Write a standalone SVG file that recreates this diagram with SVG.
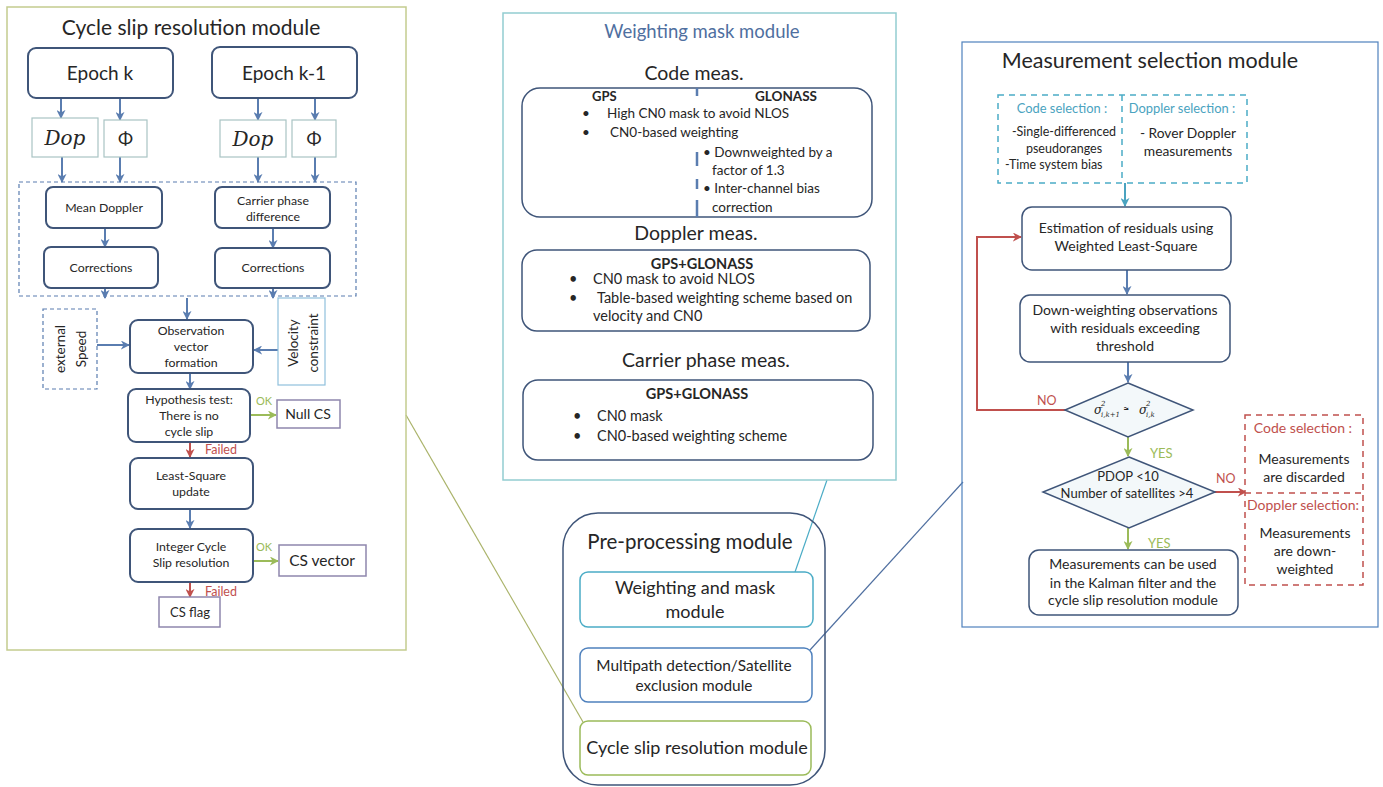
<svg xmlns="http://www.w3.org/2000/svg" width="1383" height="787" viewBox="0 0 1383 787">
<defs>
<marker id="ab" viewBox="0 0 10 10" refX="9" refY="5" markerWidth="9" markerHeight="9" markerUnits="userSpaceOnUse" orient="auto"><path d="M0,0 L10,5 L0,10 L3,5 z" fill="#5a7db0"/></marker>
<marker id="ag" viewBox="0 0 10 10" refX="9" refY="5" markerWidth="9" markerHeight="9" markerUnits="userSpaceOnUse" orient="auto"><path d="M0,0 L10,5 L0,10 L3,5 z" fill="#9bbb59"/></marker>
<marker id="ar" viewBox="0 0 10 10" refX="9" refY="5" markerWidth="9" markerHeight="9" markerUnits="userSpaceOnUse" orient="auto"><path d="M0,0 L10,5 L0,10 L3,5 z" fill="#c0504d"/></marker>
<marker id="at" viewBox="0 0 10 10" refX="9" refY="5" markerWidth="9" markerHeight="9" markerUnits="userSpaceOnUse" orient="auto"><path d="M0,0 L10,5 L0,10 L3,5 z" fill="#4aa3c0"/></marker>
</defs>
<style>
text{font-family:Lato,"Liberation Sans",sans-serif;fill:#262626}
.c{text-anchor:middle}
.box{fill:#fff;stroke:#3f5579;stroke-width:2}
.box1{fill:#fff;stroke:#3f5579;stroke-width:1.5}
.lt{fill:#fff;stroke:#a9c4c4;stroke-width:1.2}
.ab{stroke:#5a7db0;stroke-width:2;fill:none;marker-end:url(#ab)}
.ag{stroke:#9bbb59;stroke-width:2;fill:none;marker-end:url(#ag)}
.ar{stroke:#c0504d;stroke-width:2;fill:none;marker-end:url(#ar)}
.at{stroke:#4aa3c0;stroke-width:2;fill:none;marker-end:url(#at)}
.s10{font-size:12.3px}
.cm{font-size:13.5px}
.dm{font-size:14.5px}
.s11{font-size:13px}
.s12{font-size:14px}
.b{font-weight:bold}
.math{font-family:"DejaVu Serif","Liberation Serif",serif;font-style:italic}
.red{fill:#c0504d}
.grn{fill:#9bbb59}
.tea{fill:#4aa3c0}
</style>
<rect width="1383" height="787" fill="#fff"/>

<g id="connectors">
<line x1="406" y1="415" x2="583" y2="722" stroke="#aab36a" stroke-width="1.2"/>
<line x1="827" y1="480" x2="795" y2="572" stroke="#4bacc6" stroke-width="1.2"/>
<line x1="963" y1="482" x2="810" y2="650" stroke="#4f6fa0" stroke-width="1.2"/>
<path class="ab" d="M61,98 V118"/>
<path class="ab" d="M120,98 V120"/>
<path class="ab" d="M258,98 V120"/>
<path class="ab" d="M315,98 V120"/>
<path class="ab" d="M62,157 V182"/>
<path class="ab" d="M120,157 V182"/>
<path class="ab" d="M258,157 V182"/>
<path class="ab" d="M315,157 V182"/>
<path class="ab" d="M105,228 V247"/>
<path class="ab" d="M273,228 V248"/>
<path class="ab" d="M105,288 V298"/>
<path class="ab" d="M273,288 V298"/>
<path class="ab" d="M187,298 V319"/>
<path class="ab" d="M97,345 H129"/>
<path class="ab" d="M278,350 H254"/>
<path class="ab" d="M190,373 V389"/>
<path class="ag" d="M250,415 H276"/>
<path class="ar" d="M190,442 V457"/>
<path class="ab" d="M190,509 V528"/>
<path class="ag" d="M253,561 H278"/>
<path class="ar" d="M190,582 V597"/>
<path class="at" d="M1125,183 V206"/>
<path class="ab" d="M1127,270 V294"/>
<path class="ab" d="M1128,362 V382"/>
<path class="ar" d="M1065,410 H977 V237 H1021"/>
<path class="ag" d="M1128,437 V456"/>
<path class="ar" d="M1215,492 H1246"/>
<path class="ag" d="M1128,528 V549"/>
</g>

<g id="cycle-slip-module">
<rect x="7" y="7" width="399" height="643" fill="none" stroke="#c3cc8f" stroke-width="1.5"/>
<text x="191" y="35" class="c" font-size="21">Cycle slip resolution module</text>
<rect x="19" y="182" width="337" height="114" fill="none" stroke="#5a7db0" stroke-width="1.2" stroke-dasharray="4 3"/>
</g>
<g id="epoch-k"><rect x="28" y="48" width="145" height="50" rx="8" class="box"/><text x="100" y="80" class="c" font-size="19">Epoch k</text></g>
<g id="epoch-k1"><rect x="212" y="47" width="145" height="51" rx="8" class="box"/><text x="284" y="80" class="c" font-size="19">Epoch k-1</text></g>
<g id="dop-k"><rect x="32" y="118" width="66" height="39" class="lt"/><text x="65" y="145" class="c math" font-size="20">Dop</text></g>
<g id="phi-k"><rect x="104" y="120" width="43" height="37" class="lt"/><text x="125.5" y="145" class="c" font-family="DejaVu Serif" font-size="18">Φ</text></g>
<g id="dop-k1"><rect x="220" y="120" width="66" height="37" class="lt"/><text x="253" y="146" class="c math" font-size="20">Dop</text></g>
<g id="phi-k1"><rect x="292" y="120" width="44" height="37" class="lt"/><text x="314" y="145" class="c" font-family="DejaVu Serif" font-size="18">Φ</text></g>
<g id="mean-doppler"><rect x="46" y="187" width="116" height="41" rx="7" class="box"/><text x="104" y="212" class="c s10">Mean Doppler</text></g>
<g id="carrier-diff"><rect x="215" y="187" width="115" height="41" rx="7" class="box"/><text x="273" y="205" class="c s10">Carrier phase</text><text x="273" y="221" class="c s10">difference</text></g>
<g id="corr-left"><rect x="44" y="247" width="114" height="41" rx="7" class="box"/><text x="101" y="272" class="c s10">Corrections</text></g>
<g id="corr-right"><rect x="215" y="248" width="115" height="40" rx="7" class="box"/><text x="273" y="272" class="c s10">Corrections</text></g>
<g id="external-speed"><rect x="43" y="309" width="54" height="80" fill="#fff" stroke="#5a7db0" stroke-width="1.2" stroke-dasharray="4 3"/>
<text transform="translate(65,349) rotate(-90)" class="c" font-size="13.5">external</text>
<text transform="translate(86,349) rotate(-90)" class="c" font-size="13.5">Speed</text></g>
<g id="velocity-constraint"><rect x="278" y="298" width="47" height="87" fill="#fff" stroke="#8fc0dc" stroke-width="1.2"/>
<text transform="translate(298,343) rotate(-90)" class="c" font-size="13.5">Velocity</text>
<text transform="translate(318,343) rotate(-90)" class="c" font-size="13.5">constraint</text></g>
<g id="observation"><rect x="130" y="320" width="123" height="53" rx="8" class="box"/><text x="191" y="335" class="c s10">Observation</text><text x="191" y="351" class="c s10">vector</text><text x="191" y="367" class="c s10">formation</text></g>
<g id="hypothesis"><rect x="128" y="389" width="122" height="53" rx="8" class="box"/><text x="189" y="404" class="c s10">Hypothesis test:</text><text x="189" y="420" class="c s10">There is no</text><text x="189" y="436" class="c s10">cycle slip</text></g>
<text x="256" y="405" font-size="11" class="grn">OK</text>
<g id="null-cs"><rect x="277" y="400" width="63" height="28" fill="#fff" stroke="#8e86ad" stroke-width="1.5"/><text x="308" y="419" class="c" font-size="14">Null CS</text></g>
<text x="205" y="454" font-size="12.5" class="red">Failed</text>
<g id="least-square"><rect x="130" y="458" width="123" height="51" rx="8" class="box"/><text x="191" y="480" class="c s10">Least-Square</text><text x="191" y="496" class="c s10">update</text></g>
<g id="integer-cs"><rect x="130" y="529" width="123" height="53" rx="8" class="box"/><text x="191" y="551" class="c s10">Integer Cycle</text><text x="191" y="567" class="c s10">Slip resolution</text></g>
<text x="256" y="551" font-size="11" class="grn">OK</text>
<g id="cs-vector"><rect x="279" y="545" width="87" height="31" fill="#fff" stroke="#8e86ad" stroke-width="1.5"/><text x="322" y="566" class="c" font-size="15.5">CS vector</text></g>
<text x="205" y="596" font-size="12.5" class="red">Failed</text>
<g id="cs-flag"><rect x="159" y="597" width="61" height="30" fill="#fff" stroke="#8e86ad" stroke-width="1.5"/><text x="190" y="617" class="c" font-size="13">CS flag</text></g>

<g id="weighting-mask-module">
<rect x="503" y="13" width="393" height="467" fill="none" stroke="#93cdd1" stroke-width="1.5"/>
<text x="702" y="38" class="c" font-size="18.5" style="fill:#4f6fa0">Weighting mask module</text>
<text x="694" y="80" class="c" font-size="19.5">Code meas.</text>
<text x="696" y="240" class="c" font-size="19.5">Doppler meas.</text>
<text x="706" y="367" class="c" font-size="19.5">Carrier phase meas.</text>
</g>
<g id="code-meas">
<rect x="522" y="88" width="350" height="129" rx="18" class="box1"/>
<path d="M697,88 V96 M697,152 V166 M697,179 V189 M697,200 V217" stroke="#5a7db0" stroke-width="2.5" fill="none"/>
<text x="592" y="101" class="b" font-size="13">GPS</text>
<text x="755" y="101" class="b" font-size="13.5">GLONASS</text>
<text x="582" y="118" class="cm">•</text><text x="607" y="118" class="cm">High CN0 mask to avoid NLOS</text>
<text x="582" y="137" class="cm">•</text><text x="610" y="137" class="cm">CN0-based weighting</text>
<text x="703" y="157" class="cm">• Downweighted by a</text>
<text x="712" y="175" class="cm">factor of 1.3</text>
<text x="703" y="193" class="cm">• Inter-channel bias</text>
<text x="712" y="212" class="cm">correction</text>
</g>
<g id="doppler-meas">
<rect x="522" y="250" width="348" height="81" rx="15" class="box1"/>
<text x="702" y="269" class="c b" font-size="14.5">GPS+GLONASS</text>
<text x="569" y="284" class="dm">•</text><text x="593" y="284" class="dm">CN0 mask to avoid NLOS</text>
<text x="569" y="303" class="dm">•</text><text x="597" y="303" class="dm">Table-based weighting scheme based on</text>
<text x="593" y="321" class="dm">velocity and CN0</text>
</g>
<g id="carrier-meas">
<rect x="523" y="380" width="350" height="80" rx="15" class="box1"/>
<text x="697" y="399" class="c b" font-size="14.5">GPS+GLONASS</text>
<text x="573" y="421" class="dm">•</text><text x="597" y="421" class="dm">CN0 mask</text>
<text x="573" y="441" class="dm">•</text><text x="597" y="441" class="dm">CN0-based weighting scheme</text>
</g>

<g id="pre-processing">
<rect x="563" y="513" width="262" height="272" rx="35" fill="none" stroke="#3f5579" stroke-width="1.5"/>
<text x="690" y="549" class="c" font-size="20.5">Pre-processing module</text>
</g>
<g id="pp-weighting"><rect x="580" y="572" width="233" height="55" rx="8" fill="#fff" stroke="#4bacc6" stroke-width="1.5"/><text x="695" y="594" class="c" font-size="18">Weighting and mask</text><text x="695" y="618" class="c" font-size="18">module</text></g>
<g id="pp-multipath"><rect x="580" y="648" width="232" height="54" rx="8" fill="#fff" stroke="#4f81bd" stroke-width="1.5"/><text x="694" y="671" class="c" font-size="15.4">Multipath detection/Satellite</text><text x="694" y="691" class="c" font-size="15.4">exclusion module</text></g>
<g id="pp-cycleslip"><rect x="580" y="721" width="231" height="54" rx="8" fill="#fff" stroke="#9bbb59" stroke-width="1.5"/><text x="697" y="754" class="c" font-size="18">Cycle slip resolution module</text></g>

<g id="measurement-selection-module">
<rect x="962" y="42" width="416" height="585" fill="none" stroke="#4f81bd" stroke-width="1.2"/>
<text x="1150" y="68" class="c" font-size="21.5">Measurement selection module</text>
</g>
<g id="selection-inputs">
<rect x="998" y="95" width="249" height="88" fill="#fff" stroke="#4bacc6" stroke-width="1.5" stroke-dasharray="6 5"/>
<line x1="1122" y1="95" x2="1122" y2="183" stroke="#4bacc6" stroke-width="1.5" stroke-dasharray="6 5"/>
<text x="1062" y="113" class="c tea" font-size="12.9">Code selection :</text>
<text x="1064" y="136" class="c" font-size="12.5">-Single-differenced</text>
<text x="1064" y="153" class="c" font-size="12.5">pseudoranges</text>
<text x="1005" y="169" font-size="12.5">-Time system bias</text>
<text x="1182" y="113" class="c tea" font-size="12.9">Doppler selection :</text>
<text x="1188" y="138" class="c" font-size="13.8">- Rover Doppler</text>
<text x="1188" y="156" class="c" font-size="13.8">measurements</text>
</g>
<g id="estimation"><rect x="1022" y="207" width="209" height="63" rx="10" class="box1"/><text x="1126" y="233" class="c s12">Estimation of residuals using</text><text x="1126" y="251" class="c s12">Weighted Least-Square</text></g>
<g id="down-weighting"><rect x="1020" y="295" width="210" height="67" rx="10" class="box1"/><text x="1125" y="315" class="c s12">Down-weighting observations</text><text x="1125" y="333" class="c s12">with residuals exceeding</text><text x="1125" y="351" class="c s12">threshold</text></g>
<g id="sigma-test">
<polygon points="1128,383 1193,410 1128,437 1065,410" fill="#f3f8fa" stroke="#3f5579" stroke-width="1.5"/>
<text x="1094" y="414" class="math" font-size="12">σ</text>
<text x="1101" y="406" class="math" font-size="7">2</text>
<text x="1101" y="417" class="math" font-size="7">i,k+1</text>
<text x="1123" y="413" font-size="11" font-family="DejaVu Sans">≈</text>
<text x="1139" y="414" class="math" font-size="12">σ</text>
<text x="1146" y="406" class="math" font-size="7">2</text>
<text x="1146" y="417" class="math" font-size="7">i,k</text>
</g>
<text x="1037" y="405" class="red" font-size="12.5">NO</text>
<text x="1150" y="458" class="s11 grn">YES</text>
<g id="pdop-test">
<polygon points="1129,457 1215,492 1129,528 1043,492" fill="#f3f8fa" stroke="#3f5579" stroke-width="1.5"/>
<text x="1128" y="481" class="c s11">PDOP &lt;10</text>
<text x="1127" y="498" class="c s11">Number of satellites &gt;4</text>
</g>
<text x="1216" y="483" class="red" font-size="12.5">NO</text>
<g id="rejection">
<rect x="1245" y="415" width="118" height="170" fill="#fff" stroke="#c0504d" stroke-width="1.5" stroke-dasharray="6 5"/>
<line x1="1245" y1="493" x2="1363" y2="493" stroke="#c0504d" stroke-width="1.5" stroke-dasharray="6 5"/>
<text x="1303" y="433" class="c red" font-size="14">Code selection :</text>
<text x="1304" y="464" class="c s12">Measurements</text>
<text x="1304" y="482" class="c s12">are discarded</text>
<text x="1303" y="510" class="c red" font-size="14">Doppler selection:</text>
<text x="1305" y="538" class="c s12">Measurements</text>
<text x="1305" y="556" class="c s12">are down-</text>
<text x="1305" y="574" class="c s12">weighted</text>
</g>
<text x="1148" y="548" class="s11 grn">YES</text>
<g id="accepted"><rect x="1029" y="550" width="209" height="65" rx="10" class="box1"/><text x="1133" y="569" class="c s12">Measurements can be used</text><text x="1133" y="588" class="c s12">in the Kalman filter and the</text><text x="1133" y="605" class="c s12">cycle slip resolution module</text></g>
</svg>
